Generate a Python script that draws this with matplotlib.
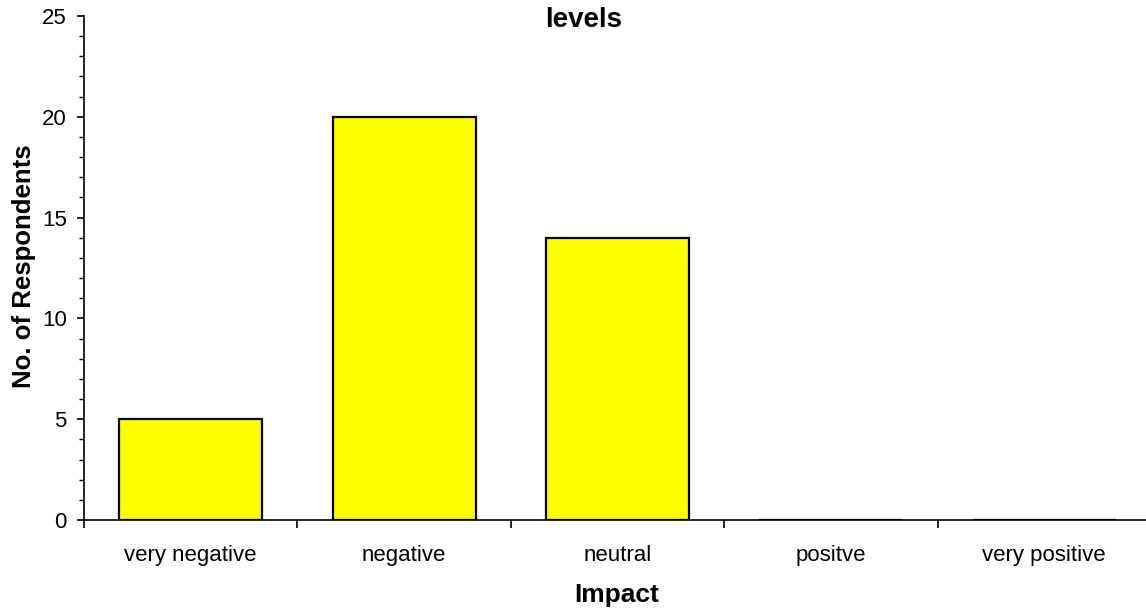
import numpy as np
import matplotlib.pyplot as plt
from matplotlib.ticker import MultipleLocator

plt.rcParams['font.family'] = ['Liberation Sans', 'DejaVu Sans']

# survey counts per impact level
categories = ["very negative", "negative", "neutral", "positve", "very positive"]
respondents = [5, 20, 14, 0, 0]

fig = plt.figure(figsize=(11.46, 6.09), dpi=100)
ax = fig.add_axes([84 / 1146, 1 - 520 / 609, 1067 / 1146, 504 / 609])

x = np.arange(len(categories))
ax.bar(x, respondents, width=0.67, color="#ffff00", edgecolor="black",
       linewidth=1.6, zorder=3)

ax.set_xlim(-0.5, len(categories) - 0.5)
ax.set_ylim(0, 25)

# category labels sit between boundary ticks
ax.set_xticks(np.arange(-0.5, len(categories), 1.0))
ax.set_xticklabels([])
ax.set_xticks(x, minor=True)
ax.set_xticklabels(categories, minor=True, fontsize=16)
ax.tick_params(axis="x", which="major", direction="out", length=5.5, width=1.2)
ax.tick_params(axis="x", which="minor", length=0, pad=18)

ax.yaxis.set_major_locator(MultipleLocator(5))
ax.yaxis.set_minor_locator(MultipleLocator(1))
ax.tick_params(axis="y", which="major", direction="out", length=5, width=1.2,
               labelsize=16, pad=7.5)
ax.tick_params(axis="y", which="minor", direction="out", length=3.5, width=1.0)

for side in ["top", "right"]:
    ax.spines[side].set_visible(False)
for side in ["left", "bottom"]:
    ax.spines[side].set_linewidth(1.2)

fig.text(584 / 1146, 1 - 27 / 609, "levels", ha="center", va="baseline",
         fontsize=20, fontweight="bold")
fig.text(617 / 1146, 1 - 602 / 609, "Impact", ha="center", va="baseline",
         fontsize=19, fontweight="bold")
fig.text(24 / 1146, 1 - 266 / 609, "No. of Respondents", ha="center",
         va="center", rotation=90, fontsize=18.5, fontweight="bold")

fig.savefig("out.png", dpi=100)
